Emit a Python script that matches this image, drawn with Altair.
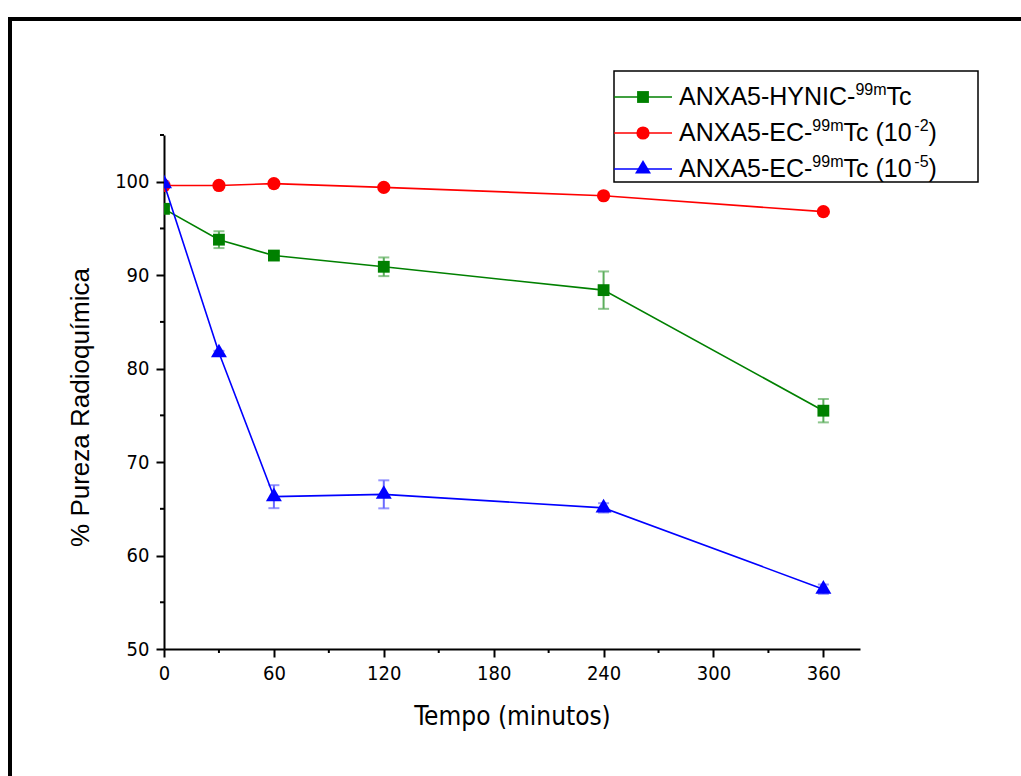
import altair as alt
import pandas as pd

# ---------------- data ----------------
tempo = [0, 30, 60, 120, 240, 360]
hynic = [97.1, 93.8, 92.1, 90.9, 88.4, 75.5]
hynic_err = [0.3, 0.9, 0.4, 1.0, 2.0, 1.25]
ec2 = [99.6, 99.6, 99.8, 99.4, 98.5, 96.8]
ec2_err = [0.1, 0.1, 0.1, 0.1, 0.1, 0.1]
ec5 = [99.8, 81.7, 66.3, 66.55, 65.1, 56.4]
ec5_err = [0.2, 0.2, 1.23, 1.5, 0.5, 0.5]

x_major = [0, 60, 120, 180, 240, 300, 360]
x_minor = [30, 90, 150, 210, 270, 330]
y_major = [50, 60, 70, 80, 90, 100]
y_minor = [55, 65, 75, 85, 95, 105]

series_values = [hynic, ec2, ec5]
series_errors = [hynic_err, ec2_err, ec5_err]
colors = ["#008000", "#ff0000", "#0000ff"]
err_colors = ["#5cae5c", "#ff6a6a", "#6a6aff"]
# triangle centred on its centroid (as in the reference)
TRI = "M0,-1L0.88,0.5L-0.88,0.5Z"
shapes = ["square", "circle", TRI]
sizes = [140, 175, 330]

# legend text: (text, is_superscript)
legend_rows = [
    [("ANXA5-HYNIC-", False), ("99m", True), ("Tc", False)],
    [("ANXA5-EC-", False), ("99m", True), ("Tc (10", False), ("-2", True), (")", False)],
    [("ANXA5-EC-", False), ("99m", True), ("Tc (10", False), ("-5", True), (")", False)],
]

# ---------------- layout ----------------
W, H = 696, 514
PAD_L, PAD_T = 164, 135
TICK_FONT = "DejaVu Sans Condensed, DejaVu Sans"
ARIAL = "Liberation Sans, Arial"

ARIAL_W = {"A": 667, "N": 722, "X": 667, "5": 556, "-": 333, "H": 722, "Y": 667,
           "I": 278, "C": 722, "E": 667, "T": 611, "c": 500, " ": 278, "(": 333,
           ")": 333, "1": 556, "0": 556, "2": 556, "9": 556, "m": 833}


def text_width(s, size):
    return sum(ARIAL_W.get(ch, 556) for ch in s) / 1000.0 * size


def xenc(field):
    return alt.X(field, type="quantitative",
                 scale=alt.Scale(domain=[0, 380], nice=False, zero=False),
                 axis=alt.Axis(values=x_major, title="Tempo (minutos)", grid=False,
                               labelFont=TICK_FONT, labelFontSize=20, labelPadding=6,
                               labelFlush=False,
                               titleFont=TICK_FONT, titleFontSize=26, titleFontWeight="normal",
                               titleY=75, titleBaseline="alphabetic"))


def yenc(field):
    return alt.Y(field, type="quantitative",
                 scale=alt.Scale(domain=[50, 105], nice=False, zero=False),
                 axis=alt.Axis(values=y_major, title="% Pureza Radioquímica", grid=False,
                               labelFont=TICK_FONT, labelFontSize=20, labelPadding=7,
                               labelFlush=False,
                               titleFont=ARIAL, titleFontSize=26, titleFontWeight="normal",
                               titleAngle=-90, titleX=-76, titleY=272,
                               titleAlign="center", titleBaseline="alphabetic"))


layers = []

# outer frame (decoration)
frame = alt.Chart(alt.Data(values=[{}])).mark_rect(
    filled=False, stroke="black", strokeWidth=4
).encode(x=alt.value(-154), x2=alt.value(1200), y=alt.value(-116), y2=alt.value(1000))
layers.append(frame)

# minor ticks
minx = alt.Chart(pd.DataFrame({"m": x_minor})).mark_rule(color="black", strokeWidth=2).encode(
    x=xenc("m"), y=alt.value(H), y2=alt.value(H + 4))
miny = alt.Chart(pd.DataFrame({"m": y_minor})).mark_rule(color="black", strokeWidth=2).encode(
    y=yenc("m"), x=alt.value(0), x2=alt.value(-4))
layers += [minx, miny]

for i in range(3):
    df = pd.DataFrame({
        "tempo": tempo,
        "val": series_values[i],
        "lo": [v - e for v, e in zip(series_values[i], series_errors[i])],
        "hi": [v + e for v, e in zip(series_values[i], series_errors[i])],
    })
    base = alt.Chart(df)
    err = base.mark_rule(color=err_colors[i], strokeWidth=2, clip=True).encode(
        x=xenc("tempo"), y=yenc("lo"), y2="hi")
    cap_lo = base.mark_tick(color=err_colors[i], orient="horizontal", size=11,
                            thickness=2, clip=True).encode(x=xenc("tempo"), y=yenc("lo"))
    cap_hi = base.mark_tick(color=err_colors[i], orient="horizontal", size=11,
                            thickness=2, clip=True).encode(x=xenc("tempo"), y=yenc("hi"))
    line = base.mark_line(color=colors[i], strokeWidth=1.6, clip=True).encode(
        x=xenc("tempo"), y=yenc("val"))
    pts = base.mark_point(shape=shapes[i], filled=True, color=colors[i], size=sizes[i],
                          opacity=1, clip=True).encode(x=xenc("tempo"), y=yenc("val"))
    layers += [err, cap_lo, cap_hi, line, pts]

# ---------------- custom legend ----------------
LX0, LX1, LY0, LY1 = 450, 814, -64, 47
box = alt.Chart(alt.Data(values=[{}])).mark_rect(
    fill="white", stroke="black", strokeWidth=1.5
).encode(x=alt.value(LX0), x2=alt.value(LX1), y=alt.value(LY0), y2=alt.value(LY1))
layers.append(box)

row_y = [-38, -2, 34]
MAIN, SUP = 25, 16
for i, row in enumerate(legend_rows):
    ry = row_y[i]
    layers.append(alt.Chart(alt.Data(values=[{}])).mark_rule(
        color=colors[i], strokeWidth=1.6).encode(
        x=alt.value(LX0), x2=alt.value(LX0 + 58), y=alt.value(ry)))
    layers.append(alt.Chart(alt.Data(values=[{}])).mark_point(
        shape=shapes[i], filled=True, color=colors[i], size=sizes[i], opacity=1).encode(
        x=alt.value(LX0 + 29), y=alt.value(ry)))
    cx = LX0 + 65
    for txt, sup in row:
        fs = SUP if sup else MAIN
        by = ry + 8 - (10 if sup else 0)
        layers.append(alt.Chart(alt.Data(values=[{}])).mark_text(
            text=txt, font=ARIAL, fontSize=fs, align="left", baseline="alphabetic",
            color="black").encode(x=alt.value(cx), y=alt.value(by)))
        cx += text_width(txt, fs)

chart = alt.layer(*layers).properties(
    width=W, height=H,
    autosize=alt.AutoSizeParams(type="none"),
    padding={"left": PAD_L, "top": PAD_T, "right": 1021 - PAD_L - W, "bottom": 776 - PAD_T - H},
    background="white",
).configure_view(stroke=None).configure_axis(
    domainColor="black", domainWidth=2, tickColor="black", tickWidth=2, tickSize=8,
    labelColor="black", titleColor="black",
)

chart.save("out.html", embed_options={"renderer": "svg", "actions": False})
